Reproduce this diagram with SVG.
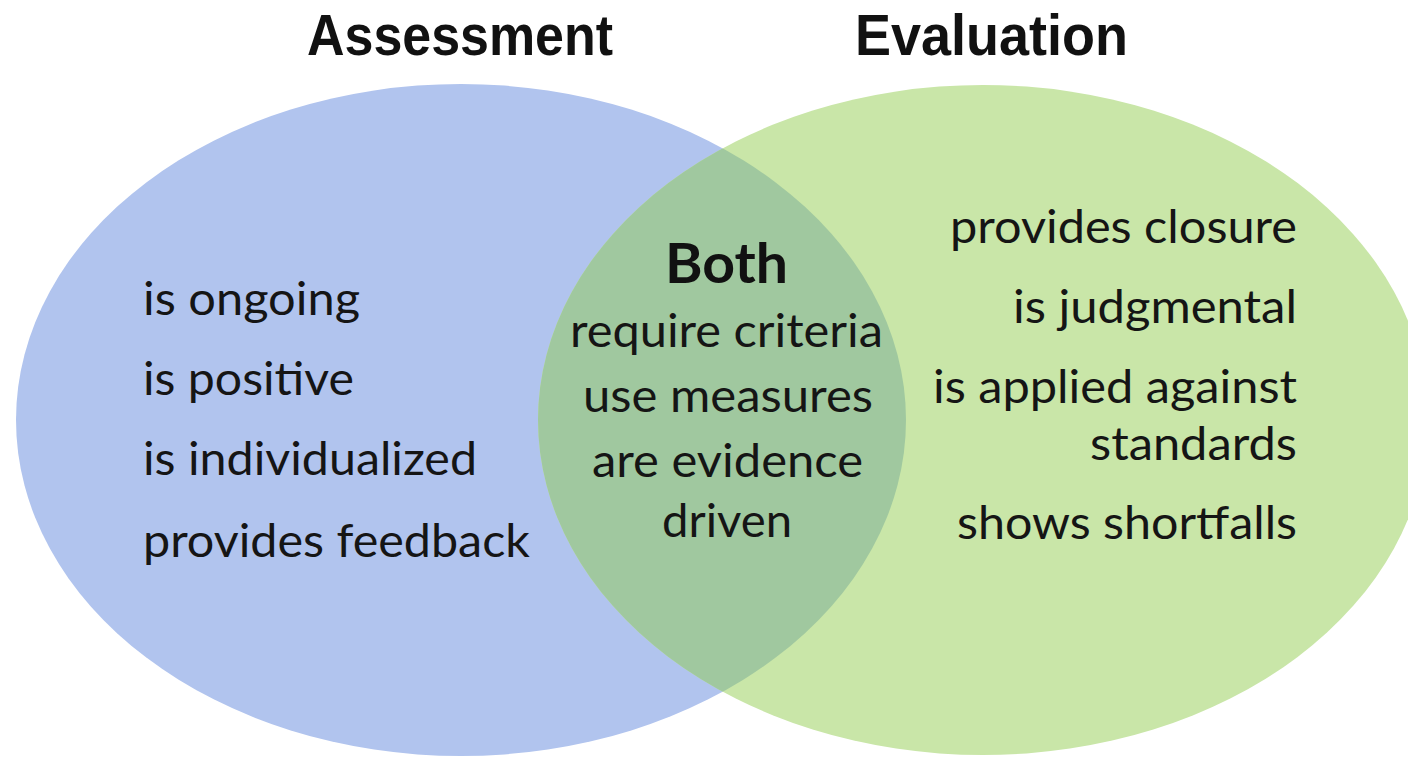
<svg xmlns="http://www.w3.org/2000/svg" width="1408" height="759" viewBox="0 0 1408 759">
  <style>
    .title { font-family: "Liberation Sans", Arial, sans-serif; font-size: 58px; font-weight: bold; fill: #111; }
    .body { font-family: Lato, "Open Sans", sans-serif; font-size: 46px; fill: #151515; }
    .bold { font-family: Lato, "Open Sans", sans-serif; font-size: 56px; font-weight: bold; fill: #111; }
  </style>
  <defs>
    <clipPath id="leftClip">
      <ellipse cx="461" cy="420" rx="445" ry="336"/>
    </clipPath>
  </defs>
  <rect width="1408" height="759" fill="#ffffff"/>

  <g id="assessment">
    <ellipse cx="461" cy="420" rx="445" ry="336" fill="#B1C4EE"/>
    <text class="title" x="307" y="55" textLength="306" lengthAdjust="spacingAndGlyphs">Assessment</text>
    <text class="body" x="143" y="315" textLength="217" lengthAdjust="spacingAndGlyphs">is ongoing</text>
    <text class="body" x="143" y="395" textLength="211" lengthAdjust="spacingAndGlyphs">is positive</text>
    <text class="body" x="143" y="475" textLength="334" lengthAdjust="spacingAndGlyphs">is individualized</text>
    <text class="body" x="143" y="557" textLength="387" lengthAdjust="spacingAndGlyphs">provides feedback</text>
  </g>

  <g id="evaluation">
    <ellipse cx="983" cy="420" rx="445" ry="335" fill="#C9E6A8"/>
    <text class="title" x="855" y="55" textLength="273" lengthAdjust="spacingAndGlyphs">Evaluation</text>
    <text class="body" x="950" y="243" textLength="347" lengthAdjust="spacingAndGlyphs">provides closure</text>
    <text class="body" x="1013" y="323" textLength="284" lengthAdjust="spacingAndGlyphs">is judgmental</text>
    <text class="body" x="933" y="403" textLength="364" lengthAdjust="spacingAndGlyphs">is applied against</text>
    <text class="body" x="1090" y="460" textLength="207" lengthAdjust="spacingAndGlyphs">standards</text>
    <text class="body" x="957" y="539" textLength="340" lengthAdjust="spacingAndGlyphs">shows shortfalls</text>
  </g>

  <g id="both">
    <ellipse cx="983" cy="420" rx="445" ry="335" fill="#A0C89F" clip-path="url(#leftClip)"/>
    <text class="bold" x="665" y="283" textLength="123" lengthAdjust="spacingAndGlyphs">Both</text>
    <text class="body" x="570" y="347" textLength="313" lengthAdjust="spacingAndGlyphs">require criteria</text>
    <text class="body" x="583" y="412" textLength="290" lengthAdjust="spacingAndGlyphs">use measures</text>
    <text class="body" x="592" y="477" textLength="271" lengthAdjust="spacingAndGlyphs">are evidence</text>
    <text class="body" x="662" y="537" textLength="130" lengthAdjust="spacingAndGlyphs">driven</text>
  </g>
</svg>
